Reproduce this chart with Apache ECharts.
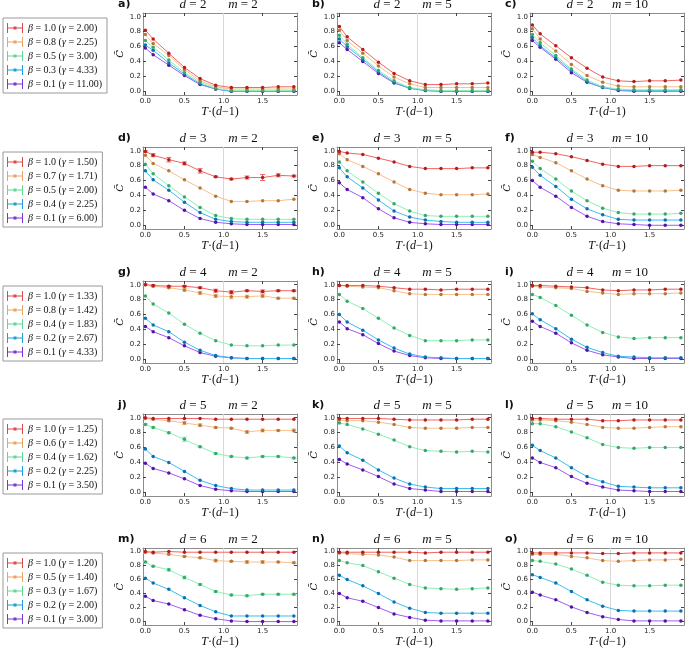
<!DOCTYPE html>
<html><head><meta charset="utf-8">
<script src="https://cdn.jsdelivr.net/npm/echarts@6/dist/echarts.min.js"></script>
<style>html,body{margin:0;padding:0;background:#fff}#c{width:685px;height:649px}</style>
</head><body><div id="c"></div>
<script>
// ---------------- data ----------------
const tValues = [0, 0.1, 0.3, 0.5, 0.7, 0.9, 1.1, 1.3, 1.5, 1.7, 1.9];
const xTicks = [0, 0.5, 1.0, 1.5];
const yTicks = [0, 0.2, 0.4, 0.6, 0.8, 1.0];
const dValues = [2, 3, 4, 5, 6];
const mValues = [2, 5, 10];
const panelLetters = ['a','b','c','d','e','f','g','h','i','j','k','l','m','n','o'];

const legend_d2 = ['β = 1.0 (γ = 2.00)', 'β = 0.8 (γ = 2.25)', 'β = 0.5 (γ = 3.00)', 'β = 0.3 (γ = 4.33)', 'β = 0.1 (γ = 11.00)'];
const legend_d3 = ['β = 1.0 (γ = 1.50)', 'β = 0.7 (γ = 1.71)', 'β = 0.5 (γ = 2.00)', 'β = 0.4 (γ = 2.25)', 'β = 0.1 (γ = 6.00)'];
const legend_d4 = ['β = 1.0 (γ = 1.33)', 'β = 0.8 (γ = 1.42)', 'β = 0.4 (γ = 1.83)', 'β = 0.2 (γ = 2.67)', 'β = 0.1 (γ = 4.33)'];
const legend_d5 = ['β = 1.0 (γ = 1.25)', 'β = 0.6 (γ = 1.42)', 'β = 0.4 (γ = 1.62)', 'β = 0.2 (γ = 2.25)', 'β = 0.1 (γ = 3.50)'];
const legend_d6 = ['β = 1.0 (γ = 1.20)', 'β = 0.5 (γ = 1.40)', 'β = 0.3 (γ = 1.67)', 'β = 0.2 (γ = 2.00)', 'β = 0.1 (γ = 3.00)'];
const legendRows = [legend_d2, legend_d3, legend_d4, legend_d5, legend_d6];

// each panel: 5 series (largest beta first)
const panelA = [
  [0.82,0.70,0.51,0.32,0.17,0.08,0.05,0.05,0.05,0.06,0.06],
  [0.76,0.64,0.48,0.29,0.14,0.06,0.03,0.03,0.03,0.03,0.03],
  [0.68,0.59,0.42,0.25,0.12,0.04,0.01,0.01,0.01,0.01,0.01],
  [0.62,0.55,0.38,0.23,0.10,0.03,0.00,0.00,0.00,0.00,0.00],
  [0.58,0.49,0.35,0.21,0.09,0.03,0.00,0.00,0.00,0.00,0.00]];
const panelB = [
  [0.87,0.73,0.56,0.39,0.24,0.14,0.09,0.09,0.10,0.10,0.11],
  [0.82,0.68,0.51,0.34,0.19,0.10,0.05,0.05,0.05,0.05,0.05],
  [0.75,0.63,0.45,0.28,0.14,0.05,0.02,0.01,0.01,0.01,0.01],
  [0.70,0.60,0.43,0.26,0.12,0.04,0.01,0.00,0.00,0.00,0.00],
  [0.65,0.56,0.40,0.24,0.11,0.04,0.01,0.00,0.00,0.00,0.00]];
const panelC = [
  [0.89,0.77,0.61,0.45,0.31,0.19,0.14,0.13,0.14,0.14,0.15],
  [0.84,0.70,0.54,0.36,0.21,0.12,0.07,0.06,0.06,0.06,0.06],
  [0.76,0.65,0.48,0.30,0.15,0.06,0.03,0.02,0.02,0.02,0.02],
  [0.72,0.61,0.45,0.28,0.13,0.05,0.02,0.01,0.01,0.01,0.01],
  [0.68,0.59,0.43,0.25,0.12,0.05,0.01,0.00,0.00,0.00,0.00]];
const panelD = [
  [0.99,0.94,0.88,0.83,0.73,0.65,0.62,0.64,0.64,0.67,0.66],
  [0.94,0.83,0.73,0.61,0.50,0.39,0.32,0.32,0.33,0.33,0.35],
  [0.82,0.69,0.53,0.38,0.24,0.13,0.09,0.08,0.08,0.08,0.08],
  [0.73,0.61,0.47,0.31,0.17,0.08,0.05,0.04,0.04,0.04,0.04],
  [0.51,0.42,0.33,0.20,0.09,0.04,0.02,0.01,0.01,0.01,0.01]];
const panelE = [
  [0.99,0.97,0.95,0.90,0.85,0.79,0.76,0.76,0.76,0.77,0.77],
  [0.96,0.88,0.79,0.69,0.58,0.48,0.43,0.41,0.41,0.41,0.42],
  [0.85,0.73,0.58,0.43,0.29,0.19,0.13,0.12,0.12,0.12,0.12],
  [0.77,0.65,0.50,0.34,0.19,0.11,0.07,0.05,0.04,0.04,0.04],
  [0.57,0.48,0.37,0.22,0.10,0.04,0.02,0.01,0.01,0.01,0.01]];
const panelF = [
  [0.98,0.98,0.96,0.92,0.87,0.82,0.79,0.79,0.80,0.80,0.80],
  [0.95,0.91,0.84,0.73,0.62,0.53,0.47,0.46,0.46,0.46,0.47],
  [0.86,0.76,0.62,0.46,0.33,0.23,0.17,0.15,0.15,0.15,0.16],
  [0.78,0.67,0.52,0.35,0.22,0.14,0.08,0.07,0.07,0.07,0.07],
  [0.60,0.51,0.39,0.24,0.12,0.05,0.02,0.01,0.00,0.00,0.00]];
const panelG = [
  [1.00,0.99,0.98,0.98,0.96,0.92,0.90,0.92,0.91,0.92,0.92],
  [1.00,0.98,0.96,0.93,0.89,0.85,0.84,0.84,0.85,0.82,0.82],
  [0.85,0.74,0.62,0.47,0.35,0.25,0.19,0.18,0.18,0.19,0.19],
  [0.55,0.46,0.37,0.23,0.12,0.05,0.02,0.01,0.01,0.01,0.01],
  [0.44,0.37,0.29,0.18,0.09,0.04,0.02,0.01,0.01,0.01,0.01]];
const panelH = [
  [0.99,0.99,0.99,0.98,0.96,0.94,0.94,0.93,0.94,0.94,0.94],
  [0.99,0.98,0.97,0.96,0.92,0.88,0.87,0.87,0.87,0.87,0.87],
  [0.87,0.78,0.68,0.55,0.42,0.32,0.25,0.25,0.25,0.26,0.26],
  [0.60,0.50,0.39,0.26,0.15,0.07,0.03,0.02,0.01,0.01,0.01],
  [0.50,0.41,0.33,0.21,0.11,0.05,0.02,0.01,0.01,0.01,0.01]];
const panelI = [
  [0.99,0.99,0.98,0.97,0.96,0.93,0.92,0.93,0.93,0.94,0.94],
  [0.98,0.97,0.96,0.95,0.91,0.89,0.87,0.88,0.88,0.88,0.89],
  [0.87,0.83,0.72,0.59,0.46,0.36,0.30,0.28,0.29,0.29,0.29],
  [0.61,0.53,0.41,0.27,0.16,0.09,0.04,0.03,0.02,0.02,0.02],
  [0.51,0.44,0.35,0.22,0.12,0.06,0.03,0.01,0.01,0.01,0.01]];
const panelJ = [
  [1.00,0.99,0.99,0.99,0.99,0.98,0.98,0.98,0.98,0.98,0.98],
  [0.99,0.98,0.96,0.93,0.90,0.87,0.86,0.81,0.83,0.83,0.83],
  [0.91,0.87,0.80,0.71,0.61,0.52,0.48,0.46,0.48,0.48,0.46],
  [0.58,0.48,0.40,0.28,0.16,0.09,0.05,0.03,0.03,0.03,0.03],
  [0.39,0.32,0.26,0.18,0.09,0.04,0.02,0.01,0.01,0.01,0.01]];
const panelK = [
  [0.99,0.99,0.99,0.99,0.98,0.97,0.97,0.97,0.97,0.98,0.98],
  [0.97,0.96,0.96,0.94,0.91,0.87,0.86,0.86,0.86,0.87,0.87],
  [0.93,0.91,0.85,0.78,0.70,0.61,0.56,0.55,0.54,0.55,0.54],
  [0.62,0.53,0.43,0.30,0.19,0.11,0.07,0.05,0.05,0.05,0.05],
  [0.44,0.38,0.30,0.21,0.11,0.05,0.03,0.01,0.01,0.01,0.01]];
const panelL = [
  [0.99,0.99,0.98,0.98,0.98,0.96,0.96,0.97,0.97,0.97,0.97],
  [0.97,0.97,0.96,0.94,0.91,0.87,0.86,0.86,0.87,0.88,0.88],
  [0.92,0.92,0.88,0.81,0.73,0.64,0.60,0.59,0.60,0.60,0.60],
  [0.63,0.56,0.46,0.33,0.21,0.14,0.08,0.07,0.06,0.06,0.06],
  [0.46,0.40,0.33,0.21,0.12,0.07,0.03,0.02,0.01,0.01,0.01]];
const panelM = [
  [1.00,0.99,1.00,0.99,0.99,0.99,0.99,0.99,0.99,0.99,0.99],
  [0.99,0.98,0.96,0.93,0.91,0.87,0.86,0.85,0.85,0.85,0.84],
  [0.85,0.79,0.74,0.63,0.53,0.43,0.38,0.37,0.39,0.39,0.39],
  [0.62,0.55,0.46,0.34,0.23,0.14,0.08,0.08,0.08,0.08,0.08],
  [0.36,0.30,0.25,0.17,0.09,0.04,0.01,0.00,0.00,0.00,0.00]];
const panelN = [
  [0.99,0.99,0.99,0.99,0.99,0.99,0.98,0.99,0.99,0.99,0.99],
  [0.98,0.97,0.96,0.95,0.92,0.87,0.87,0.87,0.87,0.88,0.88],
  [0.87,0.84,0.80,0.71,0.62,0.53,0.48,0.47,0.46,0.47,0.48],
  [0.66,0.60,0.51,0.40,0.28,0.19,0.13,0.12,0.12,0.12,0.12],
  [0.40,0.34,0.29,0.20,0.11,0.06,0.02,0.01,0.01,0.01,0.01]];
const panelO = [
  [0.98,0.98,0.98,0.98,0.98,0.97,0.97,0.98,0.98,0.98,0.98],
  [0.96,0.96,0.96,0.93,0.91,0.87,0.86,0.87,0.88,0.88,0.89],
  [0.87,0.86,0.82,0.75,0.66,0.56,0.52,0.51,0.51,0.52,0.52],
  [0.67,0.63,0.55,0.43,0.31,0.22,0.16,0.15,0.15,0.15,0.15],
  [0.42,0.38,0.31,0.21,0.13,0.07,0.03,0.01,0.01,0.01,0.01]];
const panels = [panelA,panelB,panelC,panelD,panelE,panelF,panelG,panelH,panelI,panelJ,panelK,panelL,panelM,panelN,panelO];

// visible error bars (half-widths)
const errD_red    = [0.01,0.02,0.03,0.02,0.03,0.01,0.01,0.02,0.04,0.02,0.01];
const errG_red    = [0.01,0.01,0.01,0.01,0.01,0.02,0.02,0.01,0.02,0.01,0.01];
const errG_orange = [0.01,0.01,0.01,0.02,0.02,0.02,0.03,0.02,0.02,0.01,0.01];
const errJ_orange = [0.00,0.01,0.01,0.02,0.02,0.01,0.01,0.02,0.02,0.01,0.02];
const errJ_green  = [0.01,0.01,0.01,0.03,0.01,0.01,0.01,0.01,0.01,0.01,0.01];
const errM_orange = [0.01,0.01,0.01,0.01,0.01,0.02,0.01,0.02,0.02,0.01,0.01];
const errM_green  = [0.01,0.01,0.02,0.02,0.01,0.01,0.01,0.01,0.01,0.01,0.01];
const errorBars = [
  {panel: 3, series: 0, err: errD_red},
  {panel: 6, series: 0, err: errG_red},
  {panel: 6, series: 1, err: errG_orange},
  {panel: 9, series: 1, err: errJ_orange},
  {panel: 9, series: 2, err: errJ_green},
  {panel: 12, series: 1, err: errM_orange},
  {panel: 12, series: 2, err: errM_green}];

// ---------------- style / layout ----------------
const lineColors   = ['#f06464', '#f7c08c', '#8eefb6', '#3dbdee', '#a05cf4'];
const markerColors = ['#b51d1d', '#b3783c', '#38a86a', '#0a70ae', '#5312a6'];
const legendColors = ['#e04848', '#e8a464', '#5ed896', '#1c9fd8', '#7a34d8'];
const colLeft = [143, 337, 530];
const rowTop = [13, 147, 281, 414, 548];
const plotW = 154, plotH = 82;
const frameColor = '#8c8c8c';
const serif = 'Liberation Serif';
const sans = 'DejaVu Sans';

const option = {
  animation: false,
  backgroundColor: '#fff',
  grid: [], xAxis: [], yAxis: [], series: [], title: [], legend: []
};

const errRender = (color) => function (params, api) {
  const x = api.value(0), y = api.value(1), e = api.value(2);
  if (!e) return null;
  const t = api.coord([x, y + e]), b = api.coord([x, y - e]);
  const cap = 2.5;
  const style = {stroke: color, lineWidth: 1};
  return {type: 'group', children: [
    {type: 'line', shape: {x1: t[0], y1: t[1], x2: b[0], y2: b[1]}, style},
    {type: 'line', shape: {x1: t[0] - cap, y1: t[1], x2: t[0] + cap, y2: t[1]}, style},
    {type: 'line', shape: {x1: b[0] - cap, y1: b[1], x2: b[0] + cap, y2: b[1]}, style}
  ]};
};

for (let r = 0; r < 5; r++) {
  for (let c = 0; c < 3; c++) {
    const k = r * 3 + c;
    const left = colLeft[c], top = rowTop[r];
    option.grid.push({left: left, top: top, width: plotW, height: plotH, containLabel: false});
    const tickStyle = {color: '#444', width: 1};
    option.xAxis.push({
      gridIndex: k, type: 'value', min: -0.03, max: 1.94, position: 'bottom',
      axisLine: {onZero: false, lineStyle: {color: frameColor, width: 1}},
      axisTick: {inside: true, length: 3, customValues: xTicks, lineStyle: tickStyle},
      axisLabel: {customValues: xTicks, formatter: v => v.toFixed(1), margin: 3, fontSize: 7, color: '#222', fontFamily: sans},
      splitLine: {show: false},
      name: '{v|T}·({v|d}−1)', nameLocation: 'middle', nameGap: 8,
      nameTextStyle: {fontFamily: serif, fontSize: 12, color: '#111', verticalAlign: 'top',
        rich: {v: {fontFamily: serif, fontStyle: 'italic', fontSize: 12, color: '#111'}}}
    });
    option.xAxis.push({
      gridIndex: k, type: 'value', min: -0.03, max: 1.94, position: 'top',
      axisLine: {onZero: false, lineStyle: {color: frameColor, width: 1}},
      axisTick: {inside: true, length: 3, customValues: xTicks, lineStyle: tickStyle},
      axisLabel: {show: false}, splitLine: {show: false}
    });
    option.yAxis.push({
      gridIndex: k, type: 'value', min: -0.05, max: 1.05, position: 'left',
      axisLine: {onZero: false, lineStyle: {color: frameColor, width: 1}},
      axisTick: {inside: true, length: 3, customValues: yTicks, lineStyle: tickStyle},
      axisLabel: {customValues: yTicks, formatter: v => v.toFixed(1), margin: 2, fontSize: 7, color: '#222', fontFamily: sans},
      splitLine: {show: false},
      name: 'C\u0304', nameLocation: 'middle', nameGap: 18, nameRotate: 90,
      nameTextStyle: {fontFamily: 'DejaVu Serif', fontStyle: 'italic', fontSize: 10, color: '#111'}
    });
    option.yAxis.push({
      gridIndex: k, type: 'value', min: -0.05, max: 1.05, position: 'right',
      axisLine: {onZero: false, lineStyle: {color: frameColor, width: 1}},
      axisTick: {inside: true, length: 3, customValues: yTicks, lineStyle: tickStyle},
      axisLabel: {show: false}, splitLine: {show: false}
    });

    const names = legendRows[r];
    panels[k].forEach((vals, s) => {
      const ser = {
        type: 'line', name: names[s], xAxisIndex: 2 * k, yAxisIndex: 2 * k,
        data: vals.map((v, i) => [tValues[i], v]),
        symbol: 'circle', symbolSize: 3.5, showSymbol: true,
        lineStyle: {color: lineColors[s], width: 1},
        itemStyle: {color: markerColors[s]},
        emphasis: {disabled: true}, z: 3 + (4 - s) * 0.01
      };
      if (s === 0) {
        ser.markLine = {silent: true, symbol: 'none', label: {show: false},
          lineStyle: {color: '#d9d9d9', width: 1, type: 'solid'},
          data: [{xAxis: 1.0}], z: 1};
      }
      option.series.push(ser);
    });
    errorBars.filter(e => e.panel === k).forEach(e => {
      const vals = panels[k][e.series];
      option.series.push({
        type: 'custom', name: 'err' + k + '_' + e.series,
        xAxisIndex: 2 * k, yAxisIndex: 2 * k,
        data: vals.map((v, i) => [tValues[i], v, e.err[i]]),
        encode: {x: 0, y: 1},
        renderItem: errRender(lineColors[e.series]), silent: true, z: 2
      });
    });

    option.title.push({
      text: panelLetters[k] + ')', left: left - 25, top: top - 14, padding: 0,
      textStyle: {fontFamily: sans, fontWeight: 'bold', fontSize: 11, color: '#111'}
    });
    option.title.push({
      text: '{v|d} = ' + dValues[r], left: left + 50, top: top - 15, padding: 0, textAlign: 'center',
      textStyle: {fontFamily: serif, fontWeight: 'normal', fontSize: 13, color: '#111',
        rich: {v: {fontFamily: serif, fontStyle: 'italic', fontSize: 13, color: '#111'}}}
    });
    option.title.push({
      text: '{v|m} = ' + mValues[c], left: left + 100, top: top - 15, padding: 0, textAlign: 'center',
      textStyle: {fontFamily: serif, fontWeight: 'normal', fontSize: 13, color: '#111',
        rich: {v: {fontFamily: serif, fontStyle: 'italic', fontSize: 13, color: '#111'}}}
    });
  }
  option.legend.push({
    orient: 'vertical', left: 3, top: rowTop[r] + 5,
    padding: [4, 5, 3, 4], itemGap: 2, itemWidth: 16, itemHeight: 10,
    borderColor: '#9a9a9a', borderWidth: 1, borderRadius: 0, backgroundColor: '#fff',
    selectedMode: false,
    icon: 'path://M0,0h1v10h-1z M15,0h1v10h-1z M0,4.5h16v1h-16z M6.5,3.5h3v3h-3z',
    data: legendRows[r].map((n, i) => ({name: n, itemStyle: {color: legendColors[i]}})),
    formatter: n => n.replace(/([βγ])/g, '{v|$1}'),
    textStyle: {fontFamily: serif, fontSize: 10, lineHeight: 12, color: '#111',
      rich: {v: {fontFamily: serif, fontStyle: 'italic', fontSize: 10, lineHeight: 12, color: '#111'}}}
  });
}

const chart = echarts.init(document.getElementById('c'), null, {renderer: 'canvas'});
chart.setOption(option);
</script>
</body></html>
